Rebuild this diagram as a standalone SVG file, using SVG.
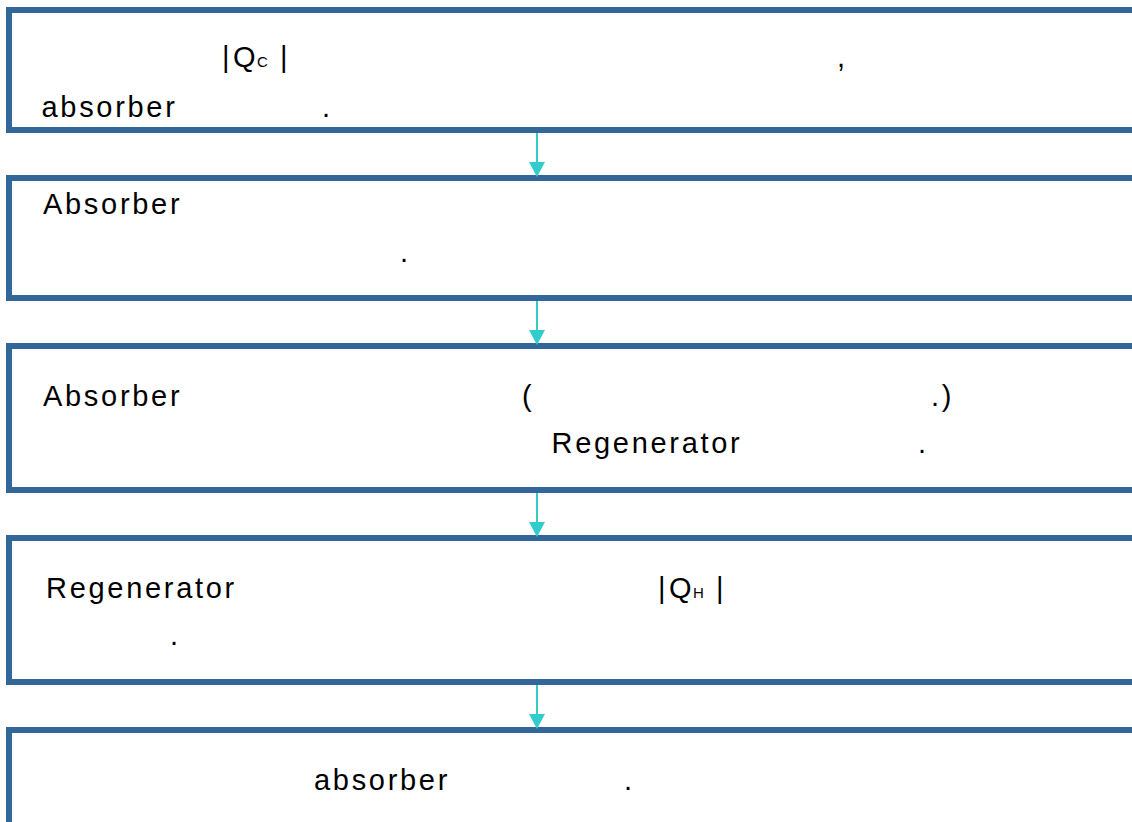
<svg xmlns="http://www.w3.org/2000/svg" width="1132" height="822" viewBox="0 0 1132 822">
<style>
.box{fill:#ffffff;stroke:#336699;stroke-width:6}
.t{font-family:"Liberation Sans",Arial,sans-serif;font-size:29px;letter-spacing:2.7px;fill:#000000}
.sub{font-size:15px;letter-spacing:0}
.conn line{stroke:#33CCCC;stroke-width:2}
.conn polygon{fill:#33CCCC}
</style>
<rect width="1132" height="822" fill="#ffffff"/>
<g id="node1">
<rect class="box" x="9" y="10" width="1140" height="120"/>
<text class="t" y="67"><tspan x="222">|</tspan><tspan x="233">Q</tspan><tspan class="sub" x="257">C</tspan><tspan x="280">|</tspan></text>
<text class="t" x="837" y="67">,</text>
<text class="t" x="41.5" y="117">absorber</text>
<text class="t" x="322" y="117">.</text>
</g>
<g id="node2">
<rect class="box" x="9" y="178" width="1140" height="120"/>
<text class="t" x="43" y="214">Absorber</text>
<text class="t" x="400" y="262">.</text>
</g>
<g id="node3">
<rect class="box" x="9" y="346" width="1140" height="144"/>
<text class="t" x="43" y="406">Absorber</text>
<text class="t" x="522" y="406">(</text>
<text class="t" x="931" y="406">.)</text>
<text class="t" x="551.5" y="453">Regenerator</text>
<text class="t" x="918" y="453">.</text>
</g>
<g id="node4">
<rect class="box" x="9" y="538" width="1140" height="144"/>
<text class="t" x="46" y="598">Regenerator</text>
<text class="t" y="598"><tspan x="658">|</tspan><tspan x="669">Q</tspan><tspan class="sub" x="693">H</tspan><tspan x="716">|</tspan></text>
<text class="t" x="170" y="645">.</text>
</g>
<g id="node5">
<rect class="box" x="9" y="730" width="1140" height="130"/>
<text class="t" x="314" y="790">absorber</text>
<text class="t" x="624" y="790">.</text>
</g>
<g id="connectors" class="conn">
<line x1="537" y1="133" x2="537" y2="163"/>
<polygon points="529,162 545,162 537,177"/>
<line x1="537" y1="301" x2="537" y2="331"/>
<polygon points="529,330 545,330 537,345"/>
<line x1="537" y1="493" x2="537" y2="523"/>
<polygon points="529,522 545,522 537,537"/>
<line x1="537" y1="685" x2="537" y2="715"/>
<polygon points="529,714 545,714 537,729"/>
</g>
</svg>
